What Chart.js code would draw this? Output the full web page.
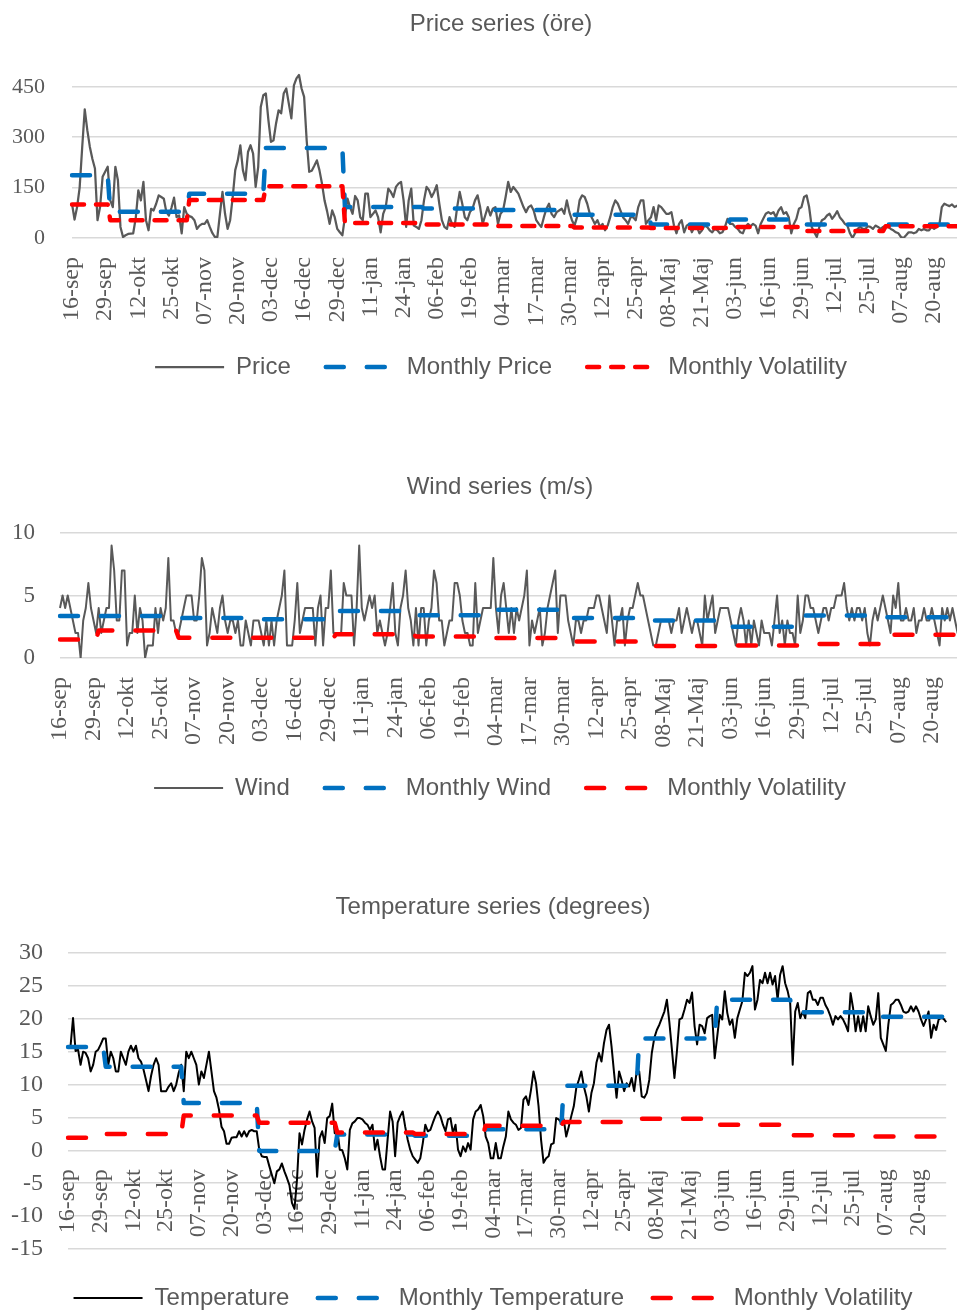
<!DOCTYPE html>
<html>
<head>
<meta charset="utf-8">
<script src="https://cdn.jsdelivr.net/npm/chart.js@4.4.0/dist/chart.umd.min.js"></script>
<style>
  html, body { margin: 0; padding: 0; background: #fff; }
  body { width: 957px; height: 1310px; overflow: hidden; position: relative; }
  canvas { position: absolute; left: 0; }
  #priceChart { top: 0; }
  #windChart { top: 463px; }
  #tempChart { top: 883px; }
</style>
</head>
<body>
<canvas id="priceChart" width="1002" height="389"></canvas>
<canvas id="windChart" width="1000" height="347"></canvas>
<canvas id="tempChart" width="986" height="437"></canvas>
<script>
// Kategorier: en dag per punkt, 16-sep til 31-aug
const monthNames = ["sep", "okt", "nov", "dec", "jan", "feb", "mar", "apr", "Maj", "jun", "jul", "aug"];
const monthDays = [30, 31, 30, 31, 31, 28, 31, 30, 31, 30, 31, 31];
const dayLabels = [];
const dayMonth = [];
monthNames.forEach((m, i) => {
    const first = i === 0 ? 16 : 1;
    for (let d = first; d <= monthDays[i]; d++) {
        dayLabels.push(String(d).padStart(2, "0") + "-" + m);
        dayMonth.push(i);
    }
});

// Pris (øre) pr. dag
const price = [
    102, 55, 92, 150, 270, 383, 321, 271, 235, 207,
    53, 92, 182, 197, 212, 112, 92, 212, 172, 33,
    3, 8, 12, 13, 14, 60, 142, 112, 167, 53,
    23, 87, 82, 102, 127, 122, 117, 77, 67, 90,
    120, 62, 67, 14, 92, 72, 65, 62, 53, 27,
    37, 42, 42, 53, 33, 15, 3, 3, 72, 137,
    72, 27, 53, 122, 202, 231, 276, 202, 172, 256,
    276, 251, 152, 212, 390, 425, 430, 351, 286, 291,
    341, 380, 371, 430, 445, 400, 356, 454, 475, 485,
    445, 420, 291, 197, 200, 215, 231, 202, 162, 112,
    80,
    42, 82, 62, 27, 17, 8, 62, 117, 92, 72,
    125, 112, 62, 53, 132, 132, 62, 72, 82, 62,
    17, 72, 92, 147, 137, 122, 152, 162, 167,
    112, 33, 112, 147, 37, 33, 27, 53, 112, 152,
    142, 122, 137, 157, 102, 53, 33, 27, 62, 42,
    33, 92, 137, 102, 62, 53, 77, 87, 112,
    127, 92, 42, 67, 92, 67, 87, 92, 42, 72,
    82, 122, 167, 137, 152, 142, 132, 112, 92, 77,
    92, 97, 82, 53, 42, 33, 62, 87, 102, 72,
    62, 77, 82, 87, 72, 112, 77, 53, 37,
    62, 112, 127, 122, 102, 72, 57, 42, 53, 33,
    42, 23, 37, 62, 92, 112, 102, 82, 62, 53,
    42, 62, 62, 53, 92, 112,
    112, 42, 53, 62, 92, 53, 97, 92, 82, 72,
    72, 77, 37, 14, 42, 53, 17, 37, 42, 17,
    33, 33, 14, 23, 37, 33, 23, 17, 27, 23,
    14, 17, 33, 57, 42, 42, 33, 27, 17, 14,
    33, 42, 35, 42, 37, 14, 42, 57, 72, 77,
    72, 77, 62, 82, 92, 72, 77, 62, 14, 42,
    57, 87, 92, 122, 127, 92, 33, 17, 3, 33,
    53, 57, 67, 72, 57, 67, 80, 62, 53, 42,
    37, 14, 0, 14, 27, 33, 27, 27, 35,
    33, 27, 37, 33, 27, 33, 37, 33,
    27, 23, 17, 14, 3, 0, 8, 17, 17,
    14, 17, 27, 23, 27, 23, 23, 33, 27,
    33, 37, 92, 102,
    98, 95, 100, 92, 96, 101, 94
];
// Månedsværdier sep..aug
const monthlyPrice = [187, 78, 132, 268, 92, 88, 83, 69, 40, 55, 40, 40];
const monthlyPriceVol = [100, 53, 113, 154, 45, 40, 36, 31, 30, 33, 21, 35];

// Vind (m/s) pr. dag
const wind = [
    4, 5, 4, 5, 4, 3, 2, 2, 0,
    3, 4, 6, 4, 3, 2, 4, 2, 3, 4,
    4, 9, 7, 3, 3, 7, 7, 1, 2, 2,
    5, 2, 4, 3, 0, 1, 1, 1, 4,
    2, 4, 3, 4, 8, 3, 3, 2, 2, 3,
    4, 5, 5, 5, 3, 3, 5, 8, 7,
    1, 2, 4, 3, 2, 4, 5, 3, 2, 3,
    3, 2, 3, 1, 1, 3, 2, 1, 3,
    3, 3, 2, 1, 3, 1, 3, 1, 3, 4,
    5, 7, 1, 1, 1, 3, 6, 2, 3,
    4, 4, 4, 4, 1, 4, 5, 1, 4, 4,
    7, 2, 2, 2, 2, 6, 5, 5, 5,
    1, 4, 9, 4, 3, 4, 5, 4, 5, 2,
    3, 2, 1, 2, 4, 6, 2, 1, 4,
    5, 7, 4, 3, 1, 4, 1, 4, 4, 1,
    3, 4, 7, 6, 3, 3, 1, 2, 3,
    3, 6, 6, 5, 3, 2, 2, 1,
    1, 6, 2, 3, 4, 4, 4, 4, 8, 4,
    2, 5, 6, 4, 2, 4, 2, 4, 3, 4,
    5, 7, 1, 3, 2, 3, 4, 1, 2, 4,
    5, 6, 7, 2, 5, 5, 5, 3, 2, 1,
    3, 3, 2, 3, 3, 4, 4, 4, 5, 5,
    4, 3, 2, 5, 3, 1, 3, 3, 4, 1,
    3, 4, 4, 5, 6, 5, 5, 4, 3, 2,
    1, 1, 2, 3, 3, 3, 3, 2, 3, 3,
    4, 2, 3, 4, 3, 2, 3, 3, 2, 1,
    5, 3, 4, 5, 2, 3, 4, 4, 4, 4,
    3, 2, 1, 3, 4, 3, 1, 3, 1, 3,
    2, 1, 3, 2, 2, 2, 1, 3, 5, 2,
    3, 1, 3, 2, 2, 1, 5, 2, 3, 5,
    5, 4, 4, 3, 2, 3, 4, 4, 3, 4,
    4, 5, 5, 5, 6, 4, 3, 4, 3, 4,
    4, 3, 4, 2, 1, 3, 4, 3, 4, 5,
    4, 3, 2, 5, 4, 6, 3, 3, 4, 3,
    3, 4, 2, 3, 3, 4, 3, 3, 4, 3,
    2, 1, 4, 3, 4, 3, 4, 3, 2, 3
];
const monthlyWind = [3.36, 3.36, 3.2, 3.1, 3.76, 3.43, 3.87, 3.2, 3.0, 2.5, 3.4, 3.27];
const monthlyWindVol = [1.49, 2.2, 1.63, 1.63, 1.9, 1.72, 1.6, 1.32, 0.96, 1.0, 1.13, 1.87];

// Temperatur (grader) pr. dag
const temperature = [
    15.8, 15.8, 20.1, 15.1, 15.3, 13, 15, 14.8, 14,
    12, 13, 15, 15.3, 16.1, 17, 17, 13, 15,
    14, 12, 12, 15, 14, 13, 15, 15.9, 15, 15.9,
    14, 13.5, 12.3, 10.7, 9, 11.3, 13, 14, 13,
    9, 9, 9, 9.7, 10.2, 9, 10, 11.8, 13, 9,
    15, 14, 15, 14, 13, 10, 12, 11, 13, 15,
    12, 9, 8, 6.2, 3.6, 2.9, 1, 1, 1.9, 2,
    2, 2.9, 2.1, 2.9, 2.1, 2.9, 3.1, 2.9, 2.9,
    0.1, -0.9, -1, -1, -2.4, -3.7, -5, -3.2, -2.9, -2,
    -3.2, -4.2, -5.3, -8, -8.9, -4.5, 2.6, 0.9, 3.1, 4.7,
    5.9, 4.4, 3.4, -4, 1.9, 2.9, 1.1,
    4.9, 5.2, 7.1, 2.6, 3.1, 0.1, 0, -1.2, -2.9, 3.1,
    4.1, 4.4, 4.9, 4.9, 4.7, 4.2, 3.9, 3.1,
    3.9, 0.1, 1.6, -0.9, -2.9, -2.9, 1.6, 5.9, 4.4, -0.9,
    4.2, 5.2, 5.9, 3.6, 1.6, 0.1, -0.9, -1.4, -1.9, -1.2,
    1.1, 3.9, 2.9, 3.1, 4.2, 5.2, 5.9, 5.2, 3.9,
    2.9, 4.7, 4.9, 2.6, 3.9, 0.1, -0.9, 0.6, -0.2, 1.1,
    0.1, 4.7, 5.9, 6.2, 6.9, 5.2, 2.1, 1.1, -1.2,
    -1.2, 1.1, -1.2, -1.2, 0.6, 2.1, 5.9, 4.7, 4.2, 3.9,
    3.1, 3.4, 7.7, 8.2, 6.9, 9.2, 12, 10.2, 6.7, 1.6,
    -1.9, -1.2, -0.9, 0.9, 1.1, 4.9, 4.7, 4.2, 4.7, 2.1,
    3.6, 5.2, 6.7, 9.5, 10.7, 12, 9.7, 8.2, 5.9,
    8.7, 10.2, 13.3, 14.8, 13.5, 16.3, 18.3, 19.1, 15.8, 11.8,
    8, 12, 10.7, 9, 10.2, 9.7, 11, 9, 12,
    12, 8.2, 8, 8.7, 10.7, 14.8, 17.1, 18.3, 19.1,
    20.1, 21.1, 22.9, 19.4, 15.3, 11, 15.1, 19.9, 20.1, 21.4,
    22.9, 22.4, 24, 18.9, 16.1, 19.1, 18.9, 17.8, 20.1,
    20.4, 20.6, 14, 17.3, 20.6, 19.9, 24.2, 20.9, 19.1,
    19.9, 17.1, 20.1, 21.4, 22.7, 27, 26.5, 27,
    28, 21.4, 22.9, 25.9, 25.4, 27, 25.4, 27, 25.2,
    26.5, 22.9, 26.7, 28, 25.4, 24.2, 22.4, 13, 21.1, 22.4,
    20.1, 21.1, 20.1, 23.9, 24.2, 22.9, 22.9, 22.1, 23.2,
    23.2, 22.1, 21.4, 20.4, 19.1, 20.4, 19.9,
    20.4, 19.9, 19.1, 18.1, 23.9, 21.6, 18.1, 20.4, 18.1,
    20.4, 18.1, 21.9, 20.4, 19.1, 19.9, 23.9, 17.1, 16.1, 15.1,
    19.1, 22.1, 22.4, 22.9, 22.9, 22.1, 21.1, 20.9, 21.1,
    21.9, 21.1, 21.9, 21.1, 19.9, 18.9, 19.9, 21.1, 17.1, 19.1,
    18.3, 19.9, 20.1,
    20, 19.5
];
const monthlyTemp = [15.7, 12.7, 7.2, -0.1, 2.4, 2.2, 3.2, 9.8, 17.0, 22.9, 21.0, 20.3];
const monthlyTempVol = [1.9, 2.5, 5.3, 4.2, 2.7, 2.5, 3.75, 4.3, 4.8, 3.9, 2.3, 2.1];

const tekstFarve = "#595959";
const gitterFarve = "#d9d9d9";
const serifFont = "'Liberation Serif', 'Times New Roman', serif";
const perDag = monthly => dayMonth.map(m => monthly[m]);

Chart.defaults.font.family = "'Liberation Sans', Arial, sans-serif";
Chart.defaults.color = tekstFarve;

function linje(label, data, farve, bredde, streg, orden) {
    return {
        label: label,
        data: data,
        borderColor: farve,
        backgroundColor: farve,
        borderWidth: bredde,
        borderDash: streg || [],
        borderCapStyle: streg ? "round" : "butt",
        borderJoinStyle: "round",
        pointRadius: 0,
        tension: 0,
        order: orden
    };
}

// legendens streger skal bruge seriens stiplede linje
function legendLabels(chart) {
    return Chart.defaults.plugins.legend.labels.generateLabels(chart).map(item => {
        const ds = chart.data.datasets[item.datasetIndex];
        item.lineDash = ds.borderDash;
        item.lineCap = ds.borderCapStyle;
        item.lineWidth = ds.borderWidth;
        item.strokeStyle = ds.borderColor;
        return item;
    });
}

function lavGraf(id, opt) {
    new Chart(document.getElementById(id), {
        type: "line",
        data: { labels: dayLabels, datasets: opt.datasets },
        options: {
            responsive: false,
            animation: false,
            devicePixelRatio: 1,
            events: [],
            layout: { padding: 0 },
            plugins: {
                tooltip: { enabled: false },
                title: {
                    display: true,
                    text: opt.titel,
                    color: tekstFarve,
                    font: { size: 24, weight: "normal" },
                    padding: { top: 10, bottom: 31.2 }
                },
                legend: {
                    position: "bottom",
                    title: {
                        display: true,
                        text: " ",
                        font: { size: 1 },
                        padding: { top: opt.legendTop, bottom: 0 }
                    },
                    labels: {
                        usePointStyle: true,
                        pointStyle: "line",
                        pointStyleWidth: 69,
                        padding: opt.legendPad,
                        color: tekstFarve,
                        font: { size: 24 },
                        generateLabels: legendLabels,
                        sort: (a, b) => a.datasetIndex - b.datasetIndex
                    }
                }
            },
            scales: {
                x: {
                    position: { y: opt.yMin < 0 ? 0 : opt.yMin },
                    grid: { display: false },
                    border: { display: false },
                    ticks: {
                        autoSkip: false,
                        minRotation: 90,
                        maxRotation: 90,
                        padding: 11,
                        color: tekstFarve,
                        font: { family: serifFont, size: 24 },
                        callback: (value, index) => index % 13 === 0 ? dayLabels[index] : ""
                    }
                },
                y: {
                    min: opt.yMin,
                    max: opt.yMax,
                    afterFit: scale => { scale.width = opt.yBredde; },
                    grid: { color: gitterFarve, lineWidth: 1.5, drawTicks: false },
                    border: { display: false },
                    ticks: {
                        stepSize: opt.yStep,
                        includeBounds: false,
                        padding: opt.yPad,
                        color: tekstFarve,
                        font: { family: serifFont, size: opt.ySize }
                    }
                },
                // tom højre akse, så titel og legende centreres på hele bredden
                yHoejre: {
                    position: "right",
                    display: true,
                    afterFit: scale => { scale.width = opt.hoejreBredde; },
                    grid: { display: false },
                    border: { display: false },
                    ticks: { display: false }
                }
            }
        }
    });
}

const langStreg = [18, 23];

lavGraf("priceChart", {
    titel: "Price series (öre)",
    yMin: 0, yMax: 500, yStep: 150, ySize: 22, yBredde: 72, yPad: 27,
    hoejreBredde: 28.6, legendPad: 35, legendTop: 80.8,
    datasets: [
        linje("Price", price, "#595959", 2.25, null, 3),
        linje("Monthly Price", perDag(monthlyPrice), "#0070C0", 4.5, langStreg, 2),
        linje("Monthly Volatility", perDag(monthlyPriceVol), "#FF0000", 4.5, [12, 12], 1)
    ]
});

lavGraf("windChart", {
    titel: "Wind series (m/s)",
    yMin: 0, yMax: 10, yStep: 5, ySize: 23, yBredde: 60, yPad: 25,
    hoejreBredde: 25.6, legendPad: 35, legendTop: 81.8,
    datasets: [
        linje("Wind", wind, "#595959", 2, null, 3),
        linje("Monthly Wind", perDag(monthlyWind), "#0070C0", 4.5, langStreg, 2),
        linje("Monthly Volatility", perDag(monthlyWindVol), "#FF0000", 4.5, langStreg, 1)
    ]
});

lavGraf("tempChart", {
    titel: "Temperature series (degrees)",
    yMin: -15, yMax: 30, yStep: 5, ySize: 24, yBredde: 68, yPad: 25,
    hoejreBredde: 26, legendPad: 28.5, legendTop: 7.3,
    datasets: [
        linje("Temperature", temperature, "#000000", 2, null, 3),
        linje("Monthly Temperature", perDag(monthlyTemp), "#0070C0", 4.5, langStreg, 2),
        linje("Monthly Volatility", perDag(monthlyTempVol), "#FF0000", 4.5, langStreg, 1)
    ]
});
</script>
</body>
</html>
